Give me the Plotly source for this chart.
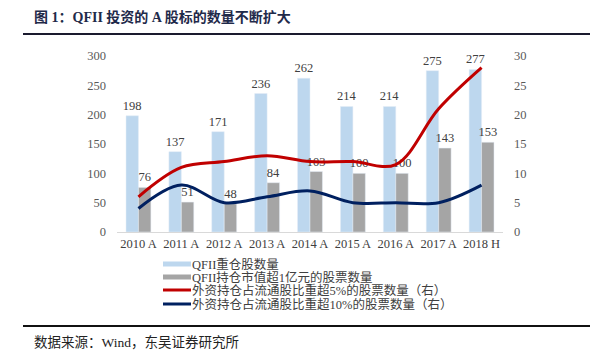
import plotly.graph_objects as go

categories = ["2010 A", "2011 A", "2012 A", "2013 A", "2014 A", "2015 A", "2016 A", "2017 A", "2018 H"]
qfii_heavy = [198, 137, 171, 236, 262, 214, 214, 275, 277]
qfii_over_1e8 = [76, 51, 48, 84, 103, 100, 100, 143, 153]
foreign_over_5pct = [6, 11, 12, 13, 12, 12, 11.5, 21, 28]
foreign_over_10pct = [4, 8, 5, 6, 7, 5, 5, 5, 8]
series_names = [
    "QFII重仓股数量",
    "QFII持仓市值超1亿元的股票数量",
    "外资持仓占流通股比重超5%的股票数量（右）",
    "外资持仓占流通股比重超10%的股票数量（右）",
]
title_text = "图 1：QFII 投资的 A 股标的数量不断扩大"
source_text = "数据来源：Wind，东吴证券研究所"

OFF = 8  # page body margin in the browser
W, H = 600 - OFF, 355 - OFF
L, R, T, B = 117 - OFF, 503 - OFF, 56 - OFF, 232 - OFF
def px(x): return (x - OFF - L) / (R - L)
def py(y): return (B - (y - OFF)) / (B - T)

SERIF = "Liberation Serif, Times New Roman, Noto Sans CJK SC, serif"
c_blue, c_gray, c_red, c_navy = "#BDD7EE", "#A5A5A5", "#C00000", "#002060"

lab_font = dict(family=SERIF, size=12.5, color="#404040")
fig = go.Figure()
fig.add_trace(go.Bar(x=categories, y=qfii_heavy, name=series_names[0], marker_color=c_blue,
                     text=qfii_heavy, textposition="outside", cliponaxis=False,
                     constraintext="none", textfont=lab_font, outsidetextfont=lab_font))
fig.add_trace(go.Bar(x=categories, y=qfii_over_1e8, name=series_names[1], marker_color=c_gray,
                     text=qfii_over_1e8, textposition="outside", cliponaxis=False,
                     constraintext="none", textfont=lab_font, outsidetextfont=lab_font))
fig.add_trace(go.Scatter(x=categories, y=foreign_over_5pct, name=series_names[2], yaxis="y2",
                         mode="lines", line=dict(color=c_red, width=3, shape="spline")))
fig.add_trace(go.Scatter(x=categories, y=foreign_over_10pct, name=series_names[3], yaxis="y2",
                         mode="lines", line=dict(color=c_navy, width=3, shape="spline")))

fig.update_layout(
    width=W, height=H,
    margin=dict(l=L, r=W - R, t=T, b=H - B, autoexpand=False),
    paper_bgcolor="white", plot_bgcolor="white",
    barmode="group", bargap=0.42, bargroupgap=0,
    showlegend=False,
    font=dict(family=SERIF, size=12, color="#404040"),
    xaxis=dict(showline=True, linecolor="#D9D9D9", linewidth=1, ticks="",
               tickfont=dict(family=SERIF, size=12.5, color="#404040"), showgrid=False),
    yaxis=dict(range=[0, 300], dtick=50, showgrid=False, zeroline=False, ticks="",
               tickfont=dict(family=SERIF, size=12.5, color="#595959"), ticklabelstandoff=10),
    yaxis2=dict(range=[0, 30], dtick=5, overlaying="y", side="right", showgrid=False,
                zeroline=False, ticks="", tickfont=dict(family=SERIF, size=12.5, color="#595959"),
                ticklabelstandoff=10),
)

shapes = []
annotations = []
annotations.append(dict(x=px(32), y=py(17), xref="paper", yref="paper", xanchor="left", yanchor="middle",
                        text="<b>" + title_text + "</b>", showarrow=False,
                        font=dict(family=SERIF, size=14, color="#1F2A4A")))
shapes.append(dict(type="line", xref="paper", yref="paper", x0=px(23), x1=px(590), y0=py(34), y1=py(34),
                   line=dict(color="#1a1a2e", width=2)))
shapes.append(dict(type="line", xref="paper", yref="paper", x0=px(23), x1=px(590), y0=py(326), y1=py(326),
                   line=dict(color="#111111", width=2)))
annotations.append(dict(x=px(32), y=py(342), xref="paper", yref="paper", xanchor="left", yanchor="middle",
                        text=source_text, showarrow=False,
                        font=dict(family=SERIF, size=13.5, color="#222222")))
leg_rows = [264, 277, 290, 304]
leg_styles = [(c_blue, 5), (c_gray, 5), (c_red, 3), (c_navy, 3)]
for name, yy, (col, w) in zip(series_names, leg_rows, leg_styles):
    shapes.append(dict(type="line", xref="paper", yref="paper", x0=px(163), x1=px(191), y0=py(yy), y1=py(yy),
                       line=dict(color=col, width=w)))
    annotations.append(dict(x=px(191), y=py(yy), xref="paper", yref="paper", xanchor="left", yanchor="middle",
                            text=name, showarrow=False, borderpad=0,
                            font=dict(family=SERIF, size=12.5, color="#404040")))
fig.update_layout(shapes=shapes, annotations=annotations)

fig.write_html("out.html")
